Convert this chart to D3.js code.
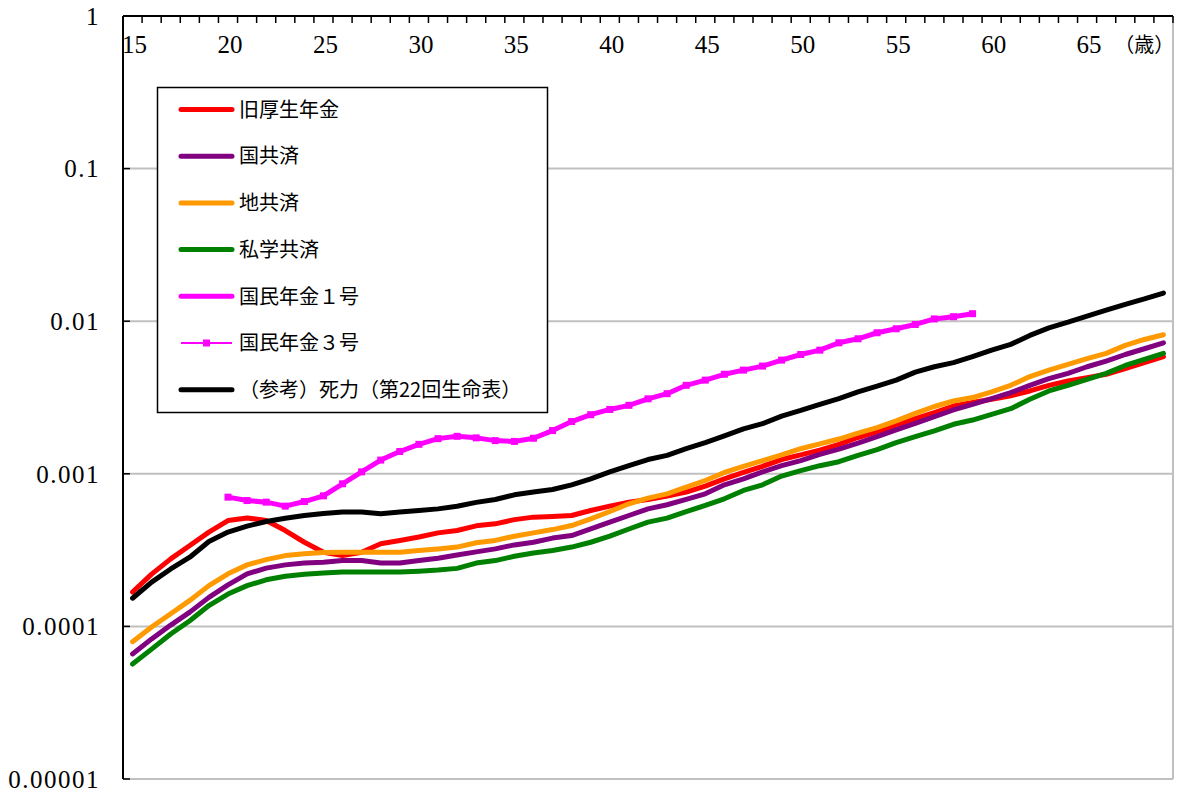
<!DOCTYPE html>
<html><head><meta charset="utf-8">
<script src="https://cdn.jsdelivr.net/npm/d3@7"></script>
<style>
html,body{margin:0;padding:0;background:#fff;}
svg{display:block;}
.num{font-family:"Liberation Serif","DejaVu Serif",serif;}
.jp{font-family:"Noto Sans CJK JP","Noto Sans",sans-serif;}
</style></head>
<body>
<svg id="chart" width="1177" height="798"></svg>
<script>
const ages = [15,16,17,18,19,20,21,22,23,24,25,26,27,28,29,30,31,32,33,34,35,36,37,38,39,40,41,42,43,44,45,46,47,48,49,50,51,52,53,54,55,56,57,58,59,60,61,62,63,64,65,66,67,68,69];
const xTickLabels = [15,20,25,30,35,40,45,50,55,60,65];
const xUnitLabel = "（歳）";
const yTickValues = [1,0.1,0.01,0.001,0.0001,0.00001];
const yTickLabels = ["1","0.1","0.01","0.001","0.0001","0.00001"];

const seriesNames = ["旧厚生年金","国共済","地共済","私学共済","国民年金１号","国民年金３号","（参考）死力（第22回生命表）"];
const seriesColors = ["#ff0000","#800080","#ff9900","#008000","#ff00ff","#ff00ff","#000000"];

const kosei = [1.68e-4,2.2e-4,2.77e-4,3.39e-4,4.15e-4,4.94e-4,5.14e-4,4.94e-4,4.25e-4,3.56e-4,3.06e-4,2.91e-4,3.06e-4,3.48e-4,3.66e-4,3.85e-4,4.1e-4,4.25e-4,4.56e-4,4.7e-4,5.01e-4,5.2e-4,5.25e-4,5.33e-4,5.75e-4,6.14e-4,6.52e-4,6.79e-4,7.15e-4,7.59e-4,8.3e-4,9.27e-4,1.02e-3,1.12e-3,1.24e-3,1.33e-3,1.43e-3,1.56e-3,1.73e-3,1.88e-3,2.08e-3,2.3e-3,2.52e-3,2.78e-3,2.93e-3,3.08e-3,3.24e-3,3.49e-3,3.8e-3,4.06e-3,4.27e-3,4.49e-3,4.89e-3,5.35e-3,5.85e-3];
const kokkyo = [6.6e-5,8.28e-5,1.02e-4,1.24e-4,1.55e-4,1.87e-4,2.21e-4,2.41e-4,2.53e-4,2.6e-4,2.63e-4,2.7e-4,2.7e-4,2.6e-4,2.6e-4,2.7e-4,2.8e-4,2.94e-4,3.08e-4,3.22e-4,3.42e-4,3.56e-4,3.79e-4,3.94e-4,4.35e-4,4.82e-4,5.33e-4,5.89e-4,6.27e-4,6.79e-4,7.39e-4,8.47e-4,9.27e-4,1.03e-3,1.13e-3,1.22e-3,1.34e-3,1.45e-3,1.59e-3,1.75e-3,1.94e-3,2.14e-3,2.37e-3,2.62e-3,2.85e-3,3.11e-3,3.4e-3,3.8e-3,4.2e-3,4.55e-3,5.03e-3,5.48e-3,6.05e-3,6.6e-3,7.22e-3];
const chikyo = [7.94e-5,9.9e-5,1.21e-4,1.48e-4,1.85e-4,2.21e-4,2.53e-4,2.74e-4,2.91e-4,2.99e-4,3.05e-4,3.06e-4,3.06e-4,3.06e-4,3.06e-4,3.14e-4,3.22e-4,3.31e-4,3.53e-4,3.66e-4,3.9e-4,4.1e-4,4.31e-4,4.58e-4,5.07e-4,5.66e-4,6.36e-4,6.93e-4,7.39e-4,8.18e-4,9.04e-4,1.02e-3,1.12e-3,1.22e-3,1.33e-3,1.46e-3,1.57e-3,1.69e-3,1.85e-3,2.01e-3,2.22e-3,2.49e-3,2.76e-3,3.0e-3,3.16e-3,3.44e-3,3.8e-3,4.34e-3,4.78e-3,5.21e-3,5.68e-3,6.15e-3,6.94e-3,7.59e-3,8.15e-3];
const shigaku = [5.67e-5,7.1e-5,8.92e-5,1.09e-4,1.37e-4,1.63e-4,1.85e-4,2.02e-4,2.13e-4,2.2e-4,2.24e-4,2.27e-4,2.27e-4,2.27e-4,2.27e-4,2.3e-4,2.34e-4,2.4e-4,2.6e-4,2.7e-4,2.88e-4,3.03e-4,3.14e-4,3.31e-4,3.56e-4,3.9e-4,4.35e-4,4.82e-4,5.12e-4,5.66e-4,6.2e-4,6.86e-4,7.78e-4,8.47e-4,9.66e-4,1.05e-3,1.13e-3,1.2e-3,1.32e-3,1.44e-3,1.6e-3,1.75e-3,1.91e-3,2.11e-3,2.25e-3,2.45e-3,2.67e-3,3.08e-3,3.49e-3,3.8e-3,4.16e-3,4.55e-3,5.13e-3,5.62e-3,6.15e-3];
const kokumin1 = [null,null,null,null,null,7.03e-4,6.68e-4,6.52e-4,6.14e-4,6.58e-4,7.17e-4,8.6e-4,1.03e-3,1.23e-3,1.4e-3,1.56e-3,1.7e-3,1.76e-3,1.72e-3,1.65e-3,1.63e-3,1.71e-3,1.92e-3,2.2e-3,2.44e-3,2.64e-3,2.81e-3,3.1e-3,3.35e-3,3.8e-3,4.11e-3,4.49e-3,4.78e-3,5.08e-3,5.56e-3,6.05e-3,6.46e-3,7.22e-3,7.67e-3,8.4e-3,8.92e-3,9.52e-3,1.035e-2,1.07e-2,1.12e-2,null,null,null,null,null,null,null,null,null,null];
const kokumin3 = [null,null,null,null,null,7.03e-4,6.68e-4,6.52e-4,6.14e-4,6.58e-4,7.17e-4,8.6e-4,1.03e-3,1.23e-3,1.4e-3,1.56e-3,1.7e-3,1.76e-3,1.72e-3,1.65e-3,1.63e-3,1.71e-3,1.92e-3,2.2e-3,2.44e-3,2.64e-3,2.81e-3,3.1e-3,3.35e-3,3.8e-3,4.11e-3,4.49e-3,4.78e-3,5.08e-3,5.56e-3,6.05e-3,6.46e-3,7.22e-3,7.67e-3,8.4e-3,8.92e-3,9.52e-3,1.035e-2,1.07e-2,1.12e-2,null,null,null,null,null,null,null,null,null,null];
const shiryoku = [1.53e-4,1.95e-4,2.38e-4,2.84e-4,3.6e-4,4.15e-4,4.54e-4,4.87e-4,5.12e-4,5.33e-4,5.49e-4,5.61e-4,5.61e-4,5.47e-4,5.61e-4,5.75e-4,5.89e-4,6.13e-4,6.5e-4,6.79e-4,7.28e-4,7.59e-4,7.89e-4,8.47e-4,9.27e-4,1.03e-3,1.13e-3,1.24e-3,1.32e-3,1.46e-3,1.6e-3,1.77e-3,1.97e-3,2.13e-3,2.39e-3,2.6e-3,2.85e-3,3.11e-3,3.44e-3,3.76e-3,4.11e-3,4.64e-3,5.03e-3,5.35e-3,5.85e-3,6.46e-3,7.05e-3,8.07e-3,9.05e-3,9.85e-3,1.08e-2,1.18e-2,1.29e-2,1.4e-2,1.53e-2];

const seriesValues = [kosei,kokkyo,chikyo,shigaku,kokumin1,kokumin3,shiryoku];
const seriesMarker = [false,false,false,false,false,true,false];

// ---- layout ----
const L = 123, R = 1173, T = 16, B = 779;
const svg = d3.select("#chart");

const x = d3.scaleBand().domain(ages).range([L, R]).padding(0);
const xc = a => x(a) + x.bandwidth() / 2;
const y = d3.scaleLog().domain([1e-5, 1]).range([B, T]);

// gridlines
svg.append("g").selectAll("line").data(yTickValues).join("line")
  .attr("x1", L).attr("x2", R)
  .attr("y1", d => y(d)).attr("y2", d => y(d))
  .attr("stroke", "#c0c0c0").attr("stroke-width", 2);
// right border
svg.append("line").attr("x1", R).attr("x2", R).attr("y1", T).attr("y2", B)
  .attr("stroke", "#c0c0c0").attr("stroke-width", 2);

// series
const gS = svg.append("g");
seriesValues.forEach((vals, i) => {
  const pts = ages.map((a, j) => ({a, v: vals[j]}));
  const line = d3.line().defined(d => d.v != null).x(d => xc(d.a)).y(d => y(d.v));
  gS.append("path").datum(pts)
    .attr("fill", "none")
    .attr("stroke", seriesColors[i])
    .attr("stroke-width", seriesMarker[i] ? 2 : 5)
    .attr("stroke-linejoin", "round").attr("stroke-linecap", "round")
    .attr("d", line);
  if (seriesMarker[i]) {
    gS.append("g").selectAll("rect").data(pts.filter(d => d.v != null)).join("rect")
      .attr("x", d => xc(d.a) - 3.5).attr("y", d => y(d.v) - 3.5)
      .attr("width", 7).attr("height", 7)
      .attr("fill", seriesColors[i]);
  }
});

// top (category) axis
svg.append("line").attr("x1", L).attr("x2", R).attr("y1", T).attr("y2", T)
  .attr("stroke", "#000").attr("stroke-width", 2);
const boundaries = ages.map(a => x(a)).concat([x(ages[ages.length - 1]) + x.bandwidth()]);
svg.append("g").selectAll("line").data(boundaries).join("line")
  .attr("x1", d => d).attr("x2", d => d).attr("y1", T).attr("y2", T + 7)
  .attr("stroke", "#000").attr("stroke-width", 1.5);
svg.append("g").selectAll("text").data(xTickLabels).join("text")
  .attr("class", "num")
  .attr("x", d => xc(d) + 2).attr("y", 53)
  .attr("text-anchor", "middle")
  .attr("font-size", 25)
  .attr("fill", "#000").text(d => d);
svg.append("text").attr("class", "jp").attr("x", xc(68)).attr("y", 52)
  .attr("text-anchor", "middle")
  .attr("font-size", 20)
  .attr("fill", "#000").text(xUnitLabel);

// left (value) axis
svg.append("line").attr("x1", L).attr("x2", L).attr("y1", T).attr("y2", B)
  .attr("stroke", "#000").attr("stroke-width", 2);
svg.append("g").selectAll("line").data(yTickValues).join("line")
  .attr("x1", L).attr("x2", L + 7).attr("y1", d => y(d)).attr("y2", d => y(d))
  .attr("stroke", "#000").attr("stroke-width", 1.5);
svg.append("g").selectAll("text").data(yTickValues).join("text")
  .attr("class", "num")
  .attr("x", 100).attr("y", d => y(d)).attr("dy", "0.35em")
  .attr("text-anchor", "end")
  .attr("font-size", 25)
  .attr("letter-spacing", "1.5px")
  .attr("fill", "#000").text((d, i) => yTickLabels[i]);

// legend
const lg = svg.append("g");
lg.append("rect").attr("x", 157.5).attr("y", 87.5).attr("width", 390).attr("height", 325)
  .attr("fill", "#fff").attr("stroke", "#000").attr("stroke-width", 1.5);
const rowY = i => 109.5 + i * 46.7;
seriesNames.forEach((name, i) => {
  const g = lg.append("g");
  g.append("line").attr("x1", 181).attr("x2", 232).attr("y1", rowY(i)).attr("y2", rowY(i))
    .attr("stroke", seriesColors[i]).attr("stroke-width", seriesMarker[i] ? 2 : 5)
    .attr("stroke-linecap", seriesMarker[i] ? "butt" : "round");
  if (seriesMarker[i]) {
    g.append("rect").attr("x", 206.5 - 3.5).attr("y", rowY(i) - 3.5).attr("width", 7).attr("height", 7)
      .attr("fill", seriesColors[i]);
  }
  g.append("text").attr("class", "jp").attr("x", 239).attr("y", rowY(i)).attr("dy", "0.36em")
    .attr("font-size", 20)
    .attr("fill", "#000").text(name);
});
</script>
</body></html>
